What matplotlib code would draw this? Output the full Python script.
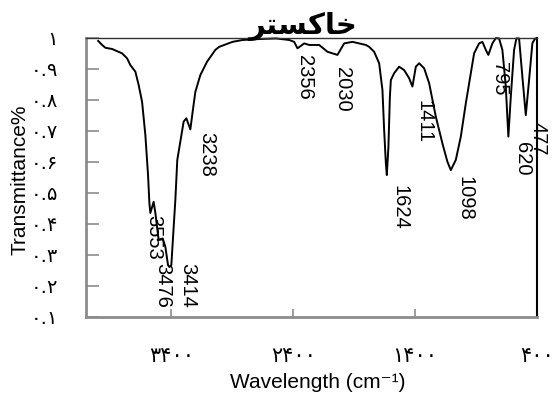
import matplotlib
matplotlib.use('Agg')
import matplotlib.pyplot as plt

# ---- data ----
wavenumber = [4000, 3968, 3941, 3886, 3804, 3763, 3736, 3695, 3668, 3640, 3613, 3591,
              3580, 3572, 3545, 3531, 3504, 3471, 3449, 3427, 3416, 3400, 3367, 3351,
              3326, 3299, 3277, 3244, 3225, 3203, 3162, 3107, 3039, 3007, 2898, 2816,
              2679, 2542, 2433, 2392, 2365, 2310, 2269, 2187, 2119, 2037, 1982, 1914,
              1859, 1804, 1777, 1736, 1695, 1668, 1654, 1640, 1632, 1619, 1607, 1599,
              1572, 1531, 1490, 1449, 1422, 1394, 1367, 1326, 1285, 1230, 1176, 1135,
              1107, 1066, 1025, 984, 943, 916, 875, 848, 820, 799, 766, 738, 711, 684,
              656, 635, 615, 588, 569, 547, 520, 492, 465, 438, 416, 400]
transmittance = [0.989, 0.976, 0.967, 0.963, 0.949, 0.933, 0.911, 0.890, 0.847, 0.793,
                 0.686, 0.557, 0.467, 0.435, 0.471, 0.435, 0.348, 0.353, 0.326, 0.267,
                 0.261, 0.267, 0.477, 0.606, 0.665, 0.729, 0.740, 0.704, 0.761, 0.825,
                 0.879, 0.922, 0.960, 0.970, 0.986, 0.992, 0.995, 0.997, 0.992, 0.986,
                 0.965, 0.981, 0.976, 0.976, 0.954, 0.944, 0.981, 0.986, 0.981, 0.976,
                 0.970, 0.954, 0.917, 0.831, 0.702, 0.595, 0.557, 0.648, 0.809, 0.863,
                 0.885, 0.906, 0.895, 0.869, 0.842, 0.906, 0.917, 0.901, 0.853, 0.745,
                 0.659, 0.600, 0.573, 0.606, 0.681, 0.788, 0.885, 0.949, 0.981, 0.986,
                 0.960, 0.944, 0.981, 0.998, 0.997, 0.960, 0.842, 0.681, 0.809, 0.960,
                 0.997, 0.997, 0.874, 0.750, 0.863, 0.981, 0.997, 0.995]

peak_labels = ['3553', '3476', '3414', '3238', '2356', '2030', '1624', '1411',
               '1098', '795', '620', '477']
label_pos = [(3548, 0.358), (3474, 0.203), (3269, 0.203), (3113, 0.625),
             (2310, 0.873), (1998, 0.834), (1523, 0.454), (1326, 0.728),
             (990, 0.483), (711, 0.866), (523, 0.609), (392, 0.673)]

x_ticks = [3400, 2400, 1400, 400]
x_ticklabels = ['۳۴۰۰', '۲۴۰۰', '۱۴۰۰', '۴۰۰']
y_ticks = [0.1, 0.2, 0.3, 0.4, 0.5, 0.6, 0.7, 0.8, 0.9, 1.0]
y_ticklabels = ['۰.۱', '۰.۲', '۰.۳', '۰.۴', '۰.۵', '۰.۶', '۰.۷', '۰.۸', '۰.۹', '۱']

# title "خاکستر" written with its joined (presentation) forms, in visual order
title_text = '\uFEAE\uFE98\uFEB4\uFB90\uFE8E\uFEA7'

W, H = 553, 398
fig = plt.figure(figsize=(W / 100, H / 100), dpi=100)
ax = fig.add_axes([86 / W, 1 - 317 / H, (537 - 86) / W, (317 - 37.5) / H])

ax.plot(wavenumber, transmittance, color='black', lw=1.4, clip_on=False)
ax.set_xlim(4100, 400)
ax.set_ylim(0.1, 1.0)

ax.set_xticks(x_ticks)
ax.set_xticklabels(x_ticklabels, fontsize=15, family='DejaVu Sans')
ax.set_yticks(y_ticks)
ax.set_yticklabels(y_ticklabels, fontsize=14, family='DejaVu Sans')
ax.tick_params(axis='x', direction='in', length=6, width=1.2, color='#8c8c8c', pad=21)
ax.tick_params(axis='y', direction='in', length=9, width=1.2, color='#8c8c8c', pad=20)

for s in ('left', 'bottom'):
    ax.spines[s].set_color('#8c8c8c')
    ax.spines[s].set_linewidth(2)
ax.spines['top'].set_color('#333333')
ax.spines['top'].set_linewidth(1)
ax.spines['right'].set_color('black')
ax.spines['right'].set_linewidth(1.5)

for lab, (px, py) in zip(peak_labels, label_pos):
    ax.text(px, py, lab, rotation=270, ha='center', va='center', fontsize=14.5,
            family='Liberation Sans', clip_on=False)

fig.text(20 / W, 1 - 180 / H, 'Transmittance%', rotation=90, ha='center', va='center',
         fontsize=15, family='Liberation Sans')
fig.text(318 / W, 1 - 382 / H, 'Wavelength (cm\u207B\u00B9)', ha='center',
         va='center', fontsize=15, family=['Liberation Sans', 'DejaVu Sans'])
fig.text(303 / W, 1 - 26 / H, title_text, ha='center', va='center', fontsize=21,
         fontweight='bold', family='DejaVu Sans')

fig.savefig('out.png', dpi=100)
